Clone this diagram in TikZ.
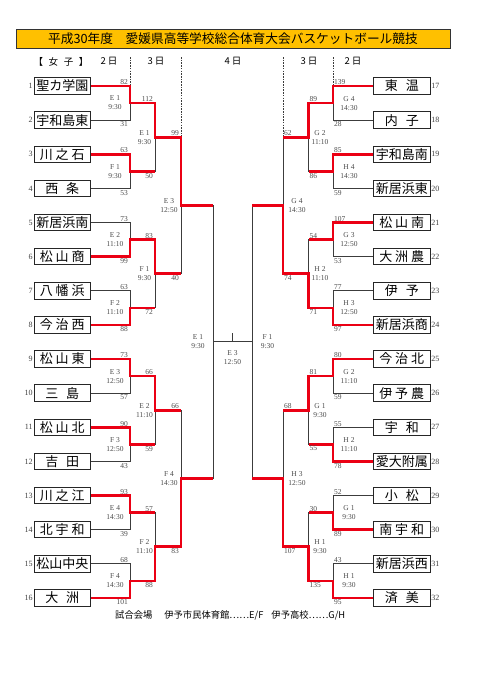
\documentclass[tikz,border=0pt]{standalone}
\usepackage{fontspec}
\setmainfont{Liberation Serif}
\newfontfamily\jp{Noto Sans CJK JP}
\usetikzlibrary{calc}
\definecolor{ttl}{RGB}{255,192,0}
\definecolor{wred}{RGB}{235,0,20}
\definecolor{lgray}{RGB}{60,60,60}
\newcommand\spthree[3]{\makebox[45pt][s]{#1\hfill#2\hfill#3}}
\newcommand\sptwo[2]{\makebox[34pt][s]{#1\hfill#2}}
\newcommand\brk[3]{\draw[ln] (#1) -- (#1 -| #3) -- (#2 -| #3) -- (#2);}
\newcommand\wpath[3]{\draw[win] (#1) -- (#1 -| #2) -- (#2) -- (#2 -| #3);}
\newcommand\lsc[5]{\node[sc,lu] (#3u) at (#1 -| #3) {#4};\node[sc,ll] (#3l) at (#2 -| #3) {#5};}
\newcommand\rsc[5]{\node[sc,ru] (#3u) at (#1 -| #3) {#4};\node[sc,rl] (#3l) at (#2 -| #3) {#5};}
\begin{document}
\begin{tikzpicture}[x=1pt,y=-1pt,
 team/.style={draw=black!85,line width=0.9pt,minimum width=56.5pt,minimum height=16.5pt,inner sep=0pt,font=\jp\fontsize{13}{13}\selectfont},
 num/.style={font=\fontsize{8}{8}\selectfont,text=black!75,inner sep=0.8pt},
 ln/.style={draw=lgray,line width=1pt},
 win/.style={draw=wred,line width=2.6pt},
 sc/.style={font=\fontsize{7.5}{7.5}\selectfont,text=black!70,inner sep=0pt},
 lu/.style={anchor=south east,xshift=-2pt,yshift=1pt},
 ll/.style={anchor=north east,xshift=-2pt,yshift=-1.5pt},
 ru/.style={anchor=south west,xshift=1pt,yshift=1pt},
 rl/.style={anchor=north west,xshift=1pt,yshift=-1.5pt},
 ml/.style={align=center,font=\fontsize{7.5}{9}\selectfont,text=black!70,inner sep=0pt},
 hdr/.style={font=\jp\fontsize{9.5}{9.5}\selectfont,inner sep=0pt},
 dsh/.style={draw=lgray,line width=0.9pt,dash pattern=on 1.6pt off 1.1pt}
]
\useasboundingbox (0,0) rectangle (481,680);
\fill[white] (0,0) rectangle (481,680);

% title
\node[draw=black!80,line width=0.9pt,fill=ttl,minimum width=434pt,minimum height=19.5pt,inner sep=0pt,
  font=\jp\fontsize{12.7}{12.7}\selectfont] (title) at (233,38.9) {平成30年度　愛媛県高等学校総合体育大会バスケットボール競技};

% header
\node[hdr] (hw) at (61,61.5) {\makebox[55pt][s]{【\hfill 女\hfill 子\hfill 】}};
\node[hdr] (h2l) at (109,61.5) {2 日};
\node[hdr] (h3l) at (156,61.5) {3 日};
\node[hdr] (h4) at (233,61.5) {4 日};
\node[hdr] (h3r) at (309,61.5) {3 日};
\node[hdr] (h2r) at (353,61.5) {2 日};

% teams left
\node[team] (t1) at (62.25,86.00) {聖カ学園};
\node[team] (t2) at (62.25,120.13) {宇和島東};
\node[team] (t3) at (62.25,154.26) {\spthree{川}{之}{石}};
\node[team] (t4) at (62.25,188.39) {\sptwo{西}{条}};
\node[team] (t5) at (62.25,222.52) {新居浜南};
\node[team] (t6) at (62.25,256.65) {\spthree{松}{山}{商}};
\node[team] (t7) at (62.25,290.78) {\spthree{八}{幡}{浜}};
\node[team] (t8) at (62.25,324.91) {\spthree{今}{治}{西}};
\node[team] (t9) at (62.25,359.04) {\spthree{松}{山}{東}};
\node[team] (t10) at (62.25,393.17) {\sptwo{三}{島}};
\node[team] (t11) at (62.25,427.30) {\spthree{松}{山}{北}};
\node[team] (t12) at (62.25,461.43) {\sptwo{吉}{田}};
\node[team] (t13) at (62.25,495.56) {\spthree{川}{之}{江}};
\node[team] (t14) at (62.25,529.69) {\spthree{北}{宇}{和}};
\node[team] (t15) at (62.25,563.82) {松山中央};
\node[team] (t16) at (62.25,597.95) {\sptwo{大}{洲}};
% teams right
\node[team] (t17) at (401.75,86.00) {\sptwo{東}{温}};
\node[team] (t18) at (401.75,120.13) {\sptwo{内}{子}};
\node[team] (t19) at (401.75,154.26) {宇和島南};
\node[team] (t20) at (401.75,188.39) {新居浜東};
\node[team] (t21) at (401.75,222.52) {\spthree{松}{山}{南}};
\node[team] (t22) at (401.75,256.65) {\spthree{大}{洲}{農}};
\node[team] (t23) at (401.75,290.78) {\sptwo{伊}{予}};
\node[team] (t24) at (401.75,324.91) {新居浜商};
\node[team] (t25) at (401.75,359.04) {\spthree{今}{治}{北}};
\node[team] (t26) at (401.75,393.17) {\spthree{伊}{予}{農}};
\node[team] (t27) at (401.75,427.30) {\sptwo{宇}{和}};
\node[team] (t28) at (401.75,461.43) {愛大附属};
\node[team] (t29) at (401.75,495.56) {\sptwo{小}{松}};
\node[team] (t30) at (401.75,529.69) {\spthree{南}{宇}{和}};
\node[team] (t31) at (401.75,563.82) {新居浜西};
\node[team] (t32) at (401.75,597.95) {\sptwo{済}{美}};

% numbers
\foreach \k in {1,...,16}{\node[num,anchor=east] (n\k) at (t\k.west) {\k};}
\foreach \k in {17,...,32}{\node[num,anchor=west] (n\k) at (t\k.east) {\k};}

% match coordinates
\coordinate (A1) at (130,103.07); \coordinate (A2) at (130,171.33);
\coordinate (A3) at (130,239.59); \coordinate (A4) at (130,307.85);
\coordinate (A5) at (130,376.11); \coordinate (A6) at (130,444.37);
\coordinate (A7) at (130,512.63); \coordinate (A8) at (130,580.89);
\coordinate (B1) at (155,137.20); \coordinate (B2) at (155,273.72);
\coordinate (B3) at (155,410.24); \coordinate (B4) at (155,546.76);
\coordinate (C1) at (181,205.46); \coordinate (C2) at (181,478.50);
\coordinate (D) at (213,341.98);
\coordinate (P1) at (333,103.07); \coordinate (P2) at (333,171.33);
\coordinate (P3) at (333,239.59); \coordinate (P4) at (333,307.85);
\coordinate (P5) at (333,376.11); \coordinate (P6) at (333,444.37);
\coordinate (P7) at (333,512.63); \coordinate (P8) at (333,580.89);
\coordinate (Q1) at (308.5,137.20); \coordinate (Q2) at (308.5,273.72);
\coordinate (Q3) at (308.5,410.24); \coordinate (Q4) at (308.5,546.76);
\coordinate (R1) at (283,205.46); \coordinate (R2) at (283,478.50);
\coordinate (S) at (252,341.98);
\coordinate (F) at (232.5,341.98); \coordinate (Ft) at (232.5,333);
\coordinate (hA) at (130,57); \coordinate (hC) at (181,57);
\coordinate (hR) at (283,57); \coordinate (hP) at (333,57);

% dashed day separators
\draw[dsh] (hA) -- (t1.east -| A1);
\draw[dsh] (hC) -- (B1 -| C1);
\draw[dsh] (hR) -- (Q1 -| R1);
\draw[dsh] (hP) -- (t17.west -| P1);

% black bracket
\brk{t1.east}{t2.east}{A1} \brk{t3.east}{t4.east}{A2}
\brk{t5.east}{t6.east}{A3} \brk{t7.east}{t8.east}{A4}
\brk{t9.east}{t10.east}{A5} \brk{t11.east}{t12.east}{A6}
\brk{t13.east}{t14.east}{A7} \brk{t15.east}{t16.east}{A8}
\brk{A1}{A2}{B1} \brk{A3}{A4}{B2} \brk{A5}{A6}{B3} \brk{A7}{A8}{B4}
\brk{B1}{B2}{C1} \brk{B3}{B4}{C2}
\brk{C1}{C2}{D}
\brk{t17.west}{t18.west}{P1} \brk{t19.west}{t20.west}{P2}
\brk{t21.west}{t22.west}{P3} \brk{t23.west}{t24.west}{P4}
\brk{t25.west}{t26.west}{P5} \brk{t27.west}{t28.west}{P6}
\brk{t29.west}{t30.west}{P7} \brk{t31.west}{t32.west}{P8}
\brk{P1}{P2}{Q1} \brk{P3}{P4}{Q2} \brk{P5}{P6}{Q3} \brk{P7}{P8}{Q4}
\brk{Q1}{Q2}{R1} \brk{Q3}{Q4}{R2}
\brk{R1}{R2}{S}
\draw[ln] (D) -- (S);
\draw[ln] (F) -- (Ft);

% winners
\wpath{t1.east}{A1}{B1} \wpath{t3.east}{A2}{B1}
\wpath{t6.east}{A3}{B2} \wpath{t8.east}{A4}{B2}
\wpath{t9.east}{A5}{B3} \wpath{t11.east}{A6}{B3}
\wpath{t13.east}{A7}{B4} \wpath{t16.east}{A8}{B4}
\wpath{A1}{B1}{C1} \wpath{A3}{B2}{C1}
\wpath{A5}{B3}{C2} \wpath{A8}{B4}{C2}
\wpath{B1}{C1}{D} \wpath{B4}{C2}{D}
\wpath{t17.west}{P1}{Q1} \wpath{t19.west}{P2}{Q1}
\wpath{t21.west}{P3}{Q2} \wpath{t24.west}{P4}{Q2}
\wpath{t25.west}{P5}{Q3} \wpath{t28.west}{P6}{Q3}
\wpath{t30.west}{P7}{Q4} \wpath{t32.west}{P8}{Q4}
\wpath{P1}{Q1}{R1} \wpath{P4}{Q2}{R1}
\wpath{P5}{Q3}{R2} \wpath{P8}{Q4}{R2}
\wpath{Q2}{R1}{S} \wpath{Q4}{R2}{S}

% scores
\lsc{t1.east}{t2.east}{A1}{82}{31} \lsc{t3.east}{t4.east}{A2}{63}{53}
\lsc{t5.east}{t6.east}{A3}{73}{99} \lsc{t7.east}{t8.east}{A4}{63}{88}
\lsc{t9.east}{t10.east}{A5}{73}{57} \lsc{t11.east}{t12.east}{A6}{90}{43}
\lsc{t13.east}{t14.east}{A7}{93}{39} \lsc{t15.east}{t16.east}{A8}{68}{101}
\lsc{A1}{A2}{B1}{112}{50} \lsc{A3}{A4}{B2}{83}{72}
\lsc{A5}{A6}{B3}{66}{59} \lsc{A7}{A8}{B4}{57}{88}
\lsc{B1}{B2}{C1}{99}{40} \lsc{B3}{B4}{C2}{66}{83}
\rsc{t17.west}{t18.west}{P1}{139}{28} \rsc{t19.west}{t20.west}{P2}{85}{59}
\rsc{t21.west}{t22.west}{P3}{107}{53} \rsc{t23.west}{t24.west}{P4}{77}{97}
\rsc{t25.west}{t26.west}{P5}{80}{59} \rsc{t27.west}{t28.west}{P6}{55}{78}
\rsc{t29.west}{t30.west}{P7}{52}{89} \rsc{t31.west}{t32.west}{P8}{43}{95}
\rsc{P1}{P2}{Q1}{89}{86} \rsc{P3}{P4}{Q2}{54}{71}
\rsc{P5}{P6}{Q3}{81}{55} \rsc{P7}{P8}{Q4}{30}{135}
\rsc{Q1}{Q2}{R1}{62}{74} \rsc{Q3}{Q4}{R2}{68}{107}

% match labels
\node[ml,xshift=-15pt] (A1m) at (A1) {E 1\\9:30};
\node[ml,xshift=-15pt] (A2m) at (A2) {F 1\\9:30};
\node[ml,xshift=-15pt] (A3m) at (A3) {E 2\\11:10};
\node[ml,xshift=-15pt] (A4m) at (A4) {F 2\\11:10};
\node[ml,xshift=-15pt] (A5m) at (A5) {E 3\\12:50};
\node[ml,xshift=-15pt] (A6m) at (A6) {F 3\\12:50};
\node[ml,xshift=-15pt] (A7m) at (A7) {E 4\\14:30};
\node[ml,xshift=-15pt] (A8m) at (A8) {F 4\\14:30};
\node[ml,xshift=-10.5pt] (B1m) at (B1) {E 1\\9:30};
\node[ml,xshift=-10.5pt] (B2m) at (B2) {F 1\\9:30};
\node[ml,xshift=-10.5pt] (B3m) at (B3) {E 2\\11:10};
\node[ml,xshift=-10.5pt] (B4m) at (B4) {F 2\\11:10};
\node[ml,xshift=-12pt] (C1m) at (C1) {E 3\\12:50};
\node[ml,xshift=-12pt] (C2m) at (C2) {F 4\\14:30};
\node[ml,xshift=-15pt] (Dm) at (D) {E 1\\9:30};
\node[ml,yshift=-16pt] (Fm) at (F) {E 3\\12:50};
\node[ml,xshift=15.5pt] (Sm) at (S) {F 1\\9:30};
\node[ml,xshift=16pt] (P1m) at (P1) {G 4\\14:30};
\node[ml,xshift=16pt] (P2m) at (P2) {H 4\\14:30};
\node[ml,xshift=16pt] (P3m) at (P3) {G 3\\12:50};
\node[ml,xshift=16pt] (P4m) at (P4) {H 3\\12:50};
\node[ml,xshift=16pt] (P5m) at (P5) {G 2\\11:10};
\node[ml,xshift=16pt] (P6m) at (P6) {H 2\\11:10};
\node[ml,xshift=16pt] (P7m) at (P7) {G 1\\9:30};
\node[ml,xshift=16pt] (P8m) at (P8) {H 1\\9:30};
\node[ml,xshift=11.5pt] (Q1m) at (Q1) {G 2\\11:10};
\node[ml,xshift=11.5pt] (Q2m) at (Q2) {H 2\\11:10};
\node[ml,xshift=11.5pt] (Q3m) at (Q3) {G 1\\9:30};
\node[ml,xshift=11.5pt] (Q4m) at (Q4) {H 1\\9:30};
\node[ml,xshift=14pt] (R1m) at (R1) {G 4\\14:30};
\node[ml,xshift=14pt] (R2m) at (R2) {H 3\\12:50};

% footer
\node[anchor=west,inner sep=0pt,font=\jp\fontsize{9.3}{9.3}\selectfont] (foot) at (115,615)
 {試合会場\hspace{12pt}伊予市民体育館……E/F\hspace{8pt}伊予高校……G/H};
\end{tikzpicture}
\end{document}
